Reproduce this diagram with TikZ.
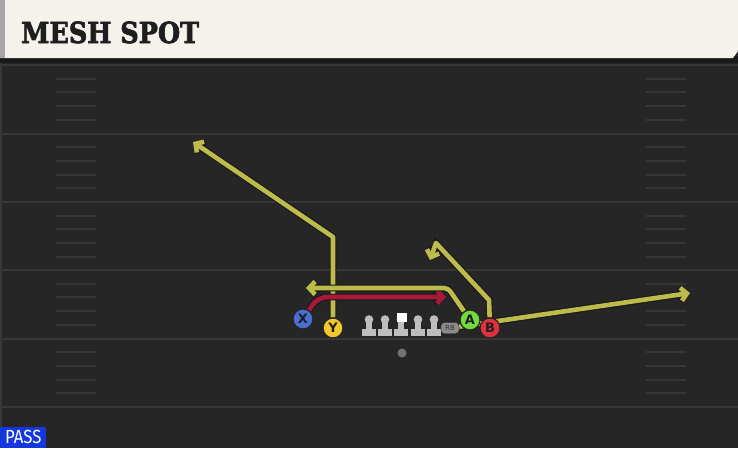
\documentclass[tikz,border=0pt]{standalone}
\usepackage{fontspec}
\usepackage{tikz}
\usetikzlibrary{arrows.meta}
\newfontfamily\titlefont{DejaVu Serif}[FakeBold=2.5]
\newfontfamily\markfont{DejaVu Sans}
\newfontfamily\passfont{Fira Sans}
\definecolor{turf}{HTML}{262626}
\definecolor{yardline}{HTML}{383838}
\definecolor{hashline}{HTML}{363636}
\definecolor{banner}{HTML}{F4F2EB}
\definecolor{titleink}{HTML}{1E1E1E}
\definecolor{routeyellow}{HTML}{BDBB4B}
\definecolor{routered}{HTML}{A8193A}
\definecolor{xblue}{HTML}{4A6FD3}
\definecolor{yyellow}{HTML}{F2C82B}
\definecolor{agreen}{HTML}{72DC3C}
\definecolor{bred}{HTML}{E0313E}
\definecolor{olgray}{HTML}{BEBEBE}
\definecolor{passblue}{HTML}{1537DE}
\pgfdeclarelayer{ground}
\pgfdeclarelayer{paths}
\pgfsetlayers{ground,paths,main}
\tikzset{
  route/.style={line width=4.6pt, draw=routeyellow, line join=round,
    -{Straight Barb[length=6pt,width=13pt]},
    preaction={draw=black!90, line width=6.8pt}},
  player/.style={circle, draw=black!85, line width=1.2pt, minimum size=20pt,
    inner sep=0pt, text=titleink, font=\markfont\bfseries\fontsize{13}{13}\selectfont},
}

\begin{document}
\begin{tikzpicture}[x=1pt,y=-1pt]
  \useasboundingbox (0,0) rectangle (738,448);
  \begin{pgfonlayer}{ground}
    % field
    \fill[turf] (0,0) rectangle (738,448);
    \fill[black!90] (0,56) rectangle (738,63);
    \draw[yardline, line width=2pt] (1,63) -- (1,448);
    \foreach \y in {65,133.5,202,270,338.5,407}{
      \draw[yardline, line width=2pt] (0,\y) -- (738,\y);
    }
    \foreach \y in {65,133.5,202,270,338.5}{
      \foreach \k in {1,...,4}{
        \draw[hashline, line width=2pt] (56,\y+13.7*\k) -- (96,\y+13.7*\k);
        \draw[hashline, line width=2pt] (646,\y+13.7*\k) -- (686,\y+13.7*\k);
      }
    }
    % banner
    \fill[banner] (0,0) -- (738,0) -- (738,51) -- (733,58) -- (0,58) -- cycle;
    \fill[black!35] (0,0) rectangle (5,58);
  \end{pgfonlayer}

  \node[anchor=base west, inner sep=0pt, text=titleink,
    font=\titlefont\bfseries\fontsize{29}{29}\selectfont] (title) at (21,43)
    {\scalebox{0.88}[1]{MESH SPOT}};

  % line
  \foreach \x in {369,385,401,418,434}{
    \fill[olgray] (\x,319.5) circle (4.3);
    \fill[olgray] (\x-3.2,320) rectangle (\x+3.2,330);
    \fill[olgray] (\x-7,329) rectangle (\x+7,335.5);
  }
  \fill[white] (396.5,312.5) rectangle (406.5,322);
  \fill[black!55] (402,353) circle (4.5);

  \node[draw=black!80, fill=black!45, rounded corners=3.5pt, minimum width=18pt,
    minimum height=11pt, inner sep=0pt, text=black!80,
    font=\markfont\fontsize{7}{7}\selectfont] (RB) at (450,328) {RB};
  \node[player, fill=xblue] (X) at (303,319) {X};
  \node[player, fill=yyellow] (Y) at (333,328) {Y};
  \node[player, fill=agreen] (A) at (470,320) {A};
  \node[player, fill=bred] (B) at (490,328) {B};

  \node[fill=passblue, anchor=south west, minimum width=46pt, minimum height=21pt,
    inner sep=0pt, text=white, font=\passfont\fontsize{19}{19}\selectfont] (pass) at (0,448)
    {\scalebox{0.88}[1]{PASS}};

  % routes
  \coordinate (ycut) at (333,237);
  \coordinate (yend) at (193,142);
  \coordinate (xcut) at (318,297);
  \coordinate (xend) at (446,297);
  \coordinate (acut) at (448,288);
  \coordinate (aend) at (306,288);
  \coordinate (bcut) at (489,300);
  \coordinate (btop) at (436,243);
  \coordinate (bend) at (430,260);
  \coordinate (rbend) at (690,293);
  \begin{pgfonlayer}{paths}
    \draw[route] (RB) -- (rbend);
    \draw[route] (Y) -- (ycut) -- (yend);
    \draw[route, draw=routered, rounded corners=9pt] (X) -- (xcut) -- (xend);
    \draw[route, rounded corners=4pt] (A) -- (acut) -- (aend);
    \draw[route] (B) -- (bcut) -- (btop) -- (bend);
  \end{pgfonlayer}
\end{tikzpicture}
\end{document}
